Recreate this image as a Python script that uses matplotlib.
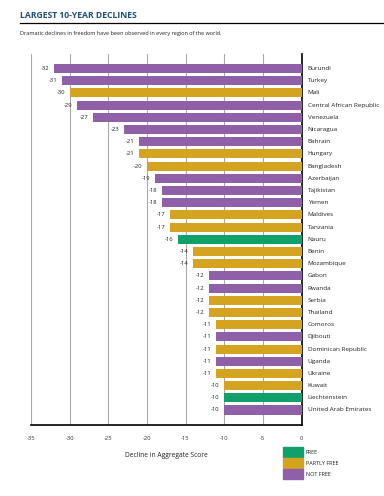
import matplotlib
matplotlib.use("Agg")
import matplotlib.pyplot as plt
from matplotlib.patches import Rectangle

countries = ["Burundi", "Turkey", "Mali", "Central African Republic", "Venezuela",
             "Nicaragua", "Bahrain", "Hungary", "Bangladesh", "Azerbaijan",
             "Tajikistan", "Yemen", "Maldives", "Tanzania", "Nauru", "Benin",
             "Mozambique", "Gabon", "Rwanda", "Serbia", "Thailand", "Comoros",
             "Djibouti", "Dominican Republic", "Uganda", "Ukraine", "Kuwait",
             "Liechtenstein", "United Arab Emirates"]
declines = [-32, -31, -30, -29, -27, -23, -21, -21, -20, -19, -18, -18, -17, -17,
            -16, -14, -14, -12, -12, -12, -12, -11, -11, -11, -11, -11, -10, -10, -10]
status = ["NF", "NF", "PF", "NF", "NF", "NF", "NF", "PF", "PF", "NF", "NF", "NF",
          "PF", "PF", "F", "PF", "PF", "NF", "NF", "PF", "PF", "PF", "NF", "PF",
          "NF", "PF", "PF", "F", "NF"]
xticks = [-35, -30, -25, -20, -15, -10, -5, 0]
legend_labels = ["FREE", "PARTLY FREE", "NOT FREE"]

colors = {"F": "#10a16b", "PF": "#d4a31f", "NF": "#8f60a8"}
FONT = "Open Sans"
plt.rcParams['font.family'] = [FONT, 'DejaVu Sans']

W, H = 384, 496
fig = plt.figure(figsize=(W / 100, H / 100), dpi=100)
ax = fig.add_axes([31 / W, 1 - 425 / H, 270.5 / W, 371 / H])

ys = list(range(len(countries)))
ax.barh(ys, declines, height=0.74, color=[colors[s] for s in status], zorder=3)
ax.set_ylim(29.23, -1.19)
ax.set_xlim(-35, 0)
ax.set_xticks(xticks)
ax.set_xticklabels([str(t) for t in xticks], fontsize=4.2, color="#333333")
ax.tick_params(axis="x", length=0, pad=8)
ax.set_yticks([])
ax.grid(axis="x", color="#aaaaaa", linewidth=0.8, zorder=0)
for s in ["top", "left"]:
    ax.spines[s].set_visible(False)
ax.spines["right"].set_color("black")
ax.spines["right"].set_linewidth(1.2)
ax.spines["bottom"].set_color("black")
ax.spines["bottom"].set_linewidth(1.2)

for y, v, c in zip(ys, declines, countries):
    ax.text(v - 0.6, y, str(v), ha="right", va="center", fontsize=4.2, color="#222222")
    ax.text(0.8, y, c, ha="left", va="center", fontsize=4.6, color="#222222",
            transform=ax.transData, clip_on=False)

ax.set_xlabel("Decline in Aggregate Score", fontsize=4.8, color="#222222", labelpad=8)

# Title, rule and subtitle
fig.text(20 / W, 1 - 15 / H, "LARGEST 10-YEAR DECLINES", fontsize=6.2, fontweight="bold",
         color="#1d4f7a", va="center", ha="left")
fig.add_artist(plt.Line2D([20 / W, 1.0], [1 - 23 / H, 1 - 23 / H], color="black",
                          linewidth=0.9, transform=fig.transFigure))
fig.text(20 / W, 1 - 34 / H,
         "Dramatic declines in freedom have been observed in every region of the world.",
         fontsize=4.0, color="#222222", va="center", ha="left")

# Legend
for i, (lab, key) in enumerate(zip(legend_labels, ["F", "PF", "NF"])):
    yc = 452 + i * 11.2
    fig.add_artist(Rectangle((283 / W, 1 - (yc + 5) / H), 20 / W, 10 / H,
                             color=colors[key], transform=fig.transFigure))
    fig.text(306 / W, 1 - yc / H, lab, fontsize=4.0, color="#222222",
             va="center", ha="left")

fig.savefig("out.png", dpi=100)
